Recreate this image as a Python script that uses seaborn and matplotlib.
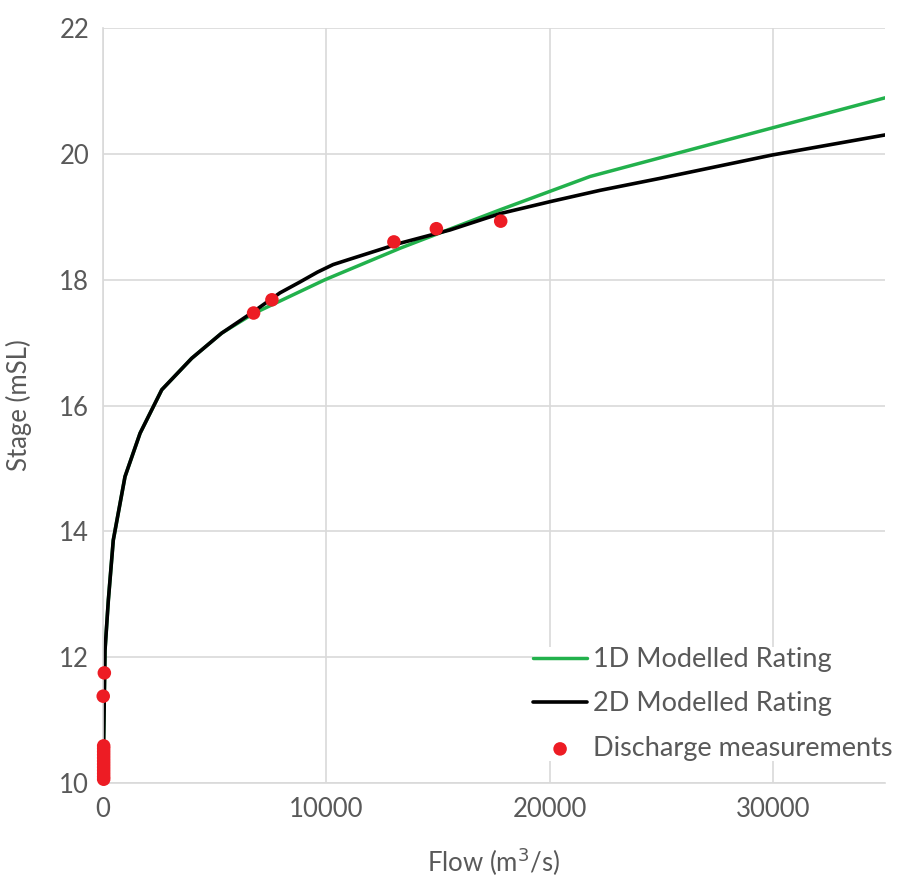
import pandas as pd
import seaborn as sns
import matplotlib.pyplot as plt

# 1D modelled rating curve
flow_1d = [0, 90, 240, 460, 985, 1660, 2630, 3970, 5310, 6730, 9940, 13300, 17770, 21800, 35000]
stage_1d = [10.0, 12.11, 12.91, 13.86, 14.87, 15.56, 16.25, 16.75, 17.15, 17.46, 18.0, 18.5, 19.11, 19.64, 20.89]

# 2D modelled rating curve
flow_2d = [0, 90, 240, 460, 985, 1660, 2630, 3970, 5310, 6730, 7920, 8800, 9600, 10300, 11000,
           13300, 15530, 17770, 20010, 22250, 24930, 29930, 35000]
stage_2d = [10.0, 12.11, 12.91, 13.86, 14.87, 15.56, 16.25, 16.75, 17.15, 17.49, 17.79, 17.96, 18.12, 18.24, 18.32,
            18.58, 18.79, 19.05, 19.24, 19.42, 19.61, 19.98, 20.30]

# discharge measurements
meas_flow = [30, 30, 30, 30, 30, 30, 30, 30, 30, 30, 30, 30, 10, 60, 6740, 7560, 13020, 14920, 17800]
meas_stage = [10.06, 10.1, 10.15, 10.2, 10.25, 10.3, 10.35, 10.4, 10.45, 10.5, 10.55, 10.59, 11.38, 11.75,
              17.47, 17.68, 18.6, 18.81, 18.93]

df1 = pd.DataFrame({"Flow": flow_1d, "Stage": stage_1d})
df2 = pd.DataFrame({"Flow": flow_2d, "Stage": stage_2d})
dfm = pd.DataFrame({"Flow": meas_flow, "Stage": meas_stage})

sns.set_style("whitegrid")
plt.rcParams['font.family'] = ['Lato', 'DejaVu Sans']

fig = plt.figure(figsize=(8.97, 8.77), dpi=100)
ax = fig.add_axes([103 / 897, 1 - 783 / 877, (885 - 103) / 897, (783 - 28) / 877])

sns.lineplot(data=df1, x="Flow", y="Stage", color="#22b14c", lw=2.5, sort=False,
             label="1D Modelled Rating", ax=ax)
sns.lineplot(data=df2, x="Flow", y="Stage", color="black", lw=2.6, sort=False,
             label="2D Modelled Rating", ax=ax)
sns.scatterplot(data=dfm, x="Flow", y="Stage", color="#ed1c24", s=95, edgecolor="none",
                label="Discharge measurements", ax=ax, zorder=5)
for coll in ax.collections:
    coll.set_clip_on(False)

ax.set_xlim(0, 35000)
ax.set_ylim(10, 22)
ax.set_xticks([0, 10000, 20000, 30000])
ax.set_yticks([10, 12, 14, 16, 18, 20, 22])
ax.grid(True, color="#d9d9d9", lw=1.2)
ax.tick_params(axis="both", labelsize=18.5, colors="#595959", length=0, pad=10)
for side in ["top", "right"]:
    ax.spines[side].set_visible(False)
for side in ["left", "bottom"]:
    ax.spines[side].set_color("#d9d9d9")
    ax.spines[side].set_linewidth(1.2)

ax.set_xlabel("Flow (m$^3$/s)", fontsize=18.5, color="#595959")
ax.set_ylabel("Stage (mSL)", fontsize=18.5, color="#595959")
ax.xaxis.set_label_coords(0.499, -0.083)
ax.yaxis.set_label_coords(-0.091, 0.5)

leg = ax.legend(loc="upper left", bbox_to_anchor=(533 / 897, 1 - 647 / 877),
                bbox_transform=fig.transFigure, fontsize=19.5, frameon=True, facecolor="white",
                edgecolor="none", framealpha=1, handlelength=2.0, handletextpad=0.2,
                borderpad=0, borderaxespad=0, labelspacing=0.72)
for t in leg.get_texts():
    t.set_color("#595959")

fig.savefig("out.png", dpi=100)
